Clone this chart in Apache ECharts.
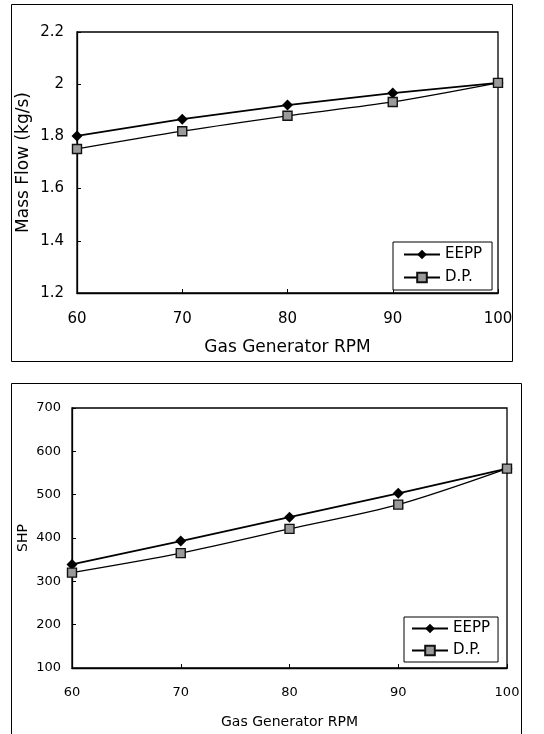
<!DOCTYPE html>
<html><head><meta charset="utf-8">
<script src="https://cdn.jsdelivr.net/npm/echarts@6/dist/echarts.min.js"></script>
<style>html,body{margin:0;padding:0;background:#fff}#c{width:544px;height:734px}</style>
</head><body><div id="c"></div>
<script>
const rpm = [60, 70, 80, 90, 100];
const massEEPP = [1.802, 1.866, 1.92, 1.966, 2.005];
const massDP = [1.752, 1.82, 1.879, 1.932, 2.005];
const shpEEPP = [339, 393, 448, 503, 560];
const shpDP = [320, 365, 421, 477, 560];
const seriesNames = ['EEPP', 'D.P.'];

const FONT = 'DejaVu Sans, sans-serif';
const pair = (xs, ys) => xs.map((x, i) => [x, ys[i]]);

function axes(gi, min, max, interval, name, cfg) {
  return {
    x: {
      type: 'value', gridIndex: gi, min: 60, max: 100, interval: 10,
      name: 'Gas Generator RPM', nameLocation: 'middle', nameGap: cfg.xNameGap,
      nameMoveOverlap: false,
      nameTextStyle: { fontFamily: FONT, fontSize: cfg.xNameFs, color: '#000' },
      axisLine: { lineStyle: { color: '#000', width: 1.3 } },
      axisTick: { inside: true, length: 4, lineStyle: { color: '#000' } },
      axisLabel: { fontFamily: FONT, fontSize: cfg.fs, color: '#000', margin: cfg.xMargin },
      splitLine: { show: false }
    },
    y: {
      type: 'value', gridIndex: gi, min: min, max: max, interval: interval,
      name: name, nameLocation: 'middle', nameGap: cfg.yNameGap, nameRotate: 90,
      nameMoveOverlap: false,
      nameTextStyle: { fontFamily: FONT, fontSize: cfg.yNameFs, color: '#000' },
      axisLine: { show: true, lineStyle: { color: '#000', width: 1.3 } },
      axisTick: { show: true, inside: true, length: 4, lineStyle: { color: '#000' } },
      axisLabel: { fontFamily: FONT, fontSize: cfg.fs, color: '#000', margin: cfg.yMargin },
      splitLine: { show: false }
    }
  };
}
const a0 = axes(0, 1.2, 2.2, 0.2, 'Mass Flow (kg/s)',
  { fs: 15, xMargin: 19, yMargin: 13, xNameFs: 17, xNameGap: 46, yNameFs: 17, yNameGap: 45 });
const a1 = axes(1, 100, 700, 100, 'SHP',
  { fs: 13, xMargin: 18, yMargin: 11, xNameFs: 14, xNameGap: 47, yNameFs: 14, yNameGap: 42 });

function lineSeries(name, gi, data, isDP) {
  return {
    name: name, type: 'line', xAxisIndex: gi, yAxisIndex: gi, data: data,
    smooth: isDP ? 0.3 : false,
    symbol: isDP ? 'rect' : 'diamond',
    symbolSize: isDP ? 9 : 11,
    lineStyle: { color: '#000', width: isDP ? 1.2 : 1.8 },
    itemStyle: isDP ? { color: '#9a9a9a', borderColor: '#111', borderWidth: 1.4 } : { color: '#000' },
    emphasis: { disabled: true },
    animation: false
  };
}

function legend(left, top, pad, gap, fs) {
  return {
    data: seriesNames.map(n => ({ name: n })),
    orient: 'vertical', left: left, top: top,
    itemWidth: 36, itemHeight: 12, itemGap: gap,
    padding: pad,
    borderColor: '#000', borderWidth: 1, backgroundColor: '#fff',
    textStyle: { fontFamily: FONT, fontSize: fs, color: '#000' },
    selectedMode: false
  };
}

const chart = echarts.init(document.getElementById('c'), null, { renderer: 'canvas' });
chart.setOption({
  animation: false,
  backgroundColor: '#fff',
  grid: [
    { left: 77, top: 32, width: 421, height: 261, show: true, borderColor: '#000', borderWidth: 1.3, backgroundColor: 'transparent' },
    { left: 72, top: 408, width: 435, height: 260, show: true, borderColor: '#000', borderWidth: 1.3, backgroundColor: 'transparent' }
  ],
  xAxis: [a0.x, a1.x],
  yAxis: [a0.y, a1.y],
  series: [
    lineSeries('EEPP', 0, pair(rpm, massEEPP), false),
    lineSeries('D.P.', 0, pair(rpm, massDP), true),
    lineSeries('EEPP', 1, pair(rpm, shpEEPP), false),
    lineSeries('D.P.', 1, pair(rpm, shpDP), true)
  ],
  legend: [
    legend(393, 242, [5, 10, 5, 10], 8, 15),
    legend(404, 617, [4, 8, 4, 7], 7, 15)
  ],
  graphic: [
    { type: 'rect', shape: { x: 11.5, y: 4.5, width: 501, height: 357 }, style: { fill: 'none', stroke: '#000', lineWidth: 1 }, silent: true },
    { type: 'rect', shape: { x: 11.5, y: 383.5, width: 510, height: 360 }, style: { fill: 'none', stroke: '#000', lineWidth: 1 }, silent: true }
  ]
});
</script></body></html>
